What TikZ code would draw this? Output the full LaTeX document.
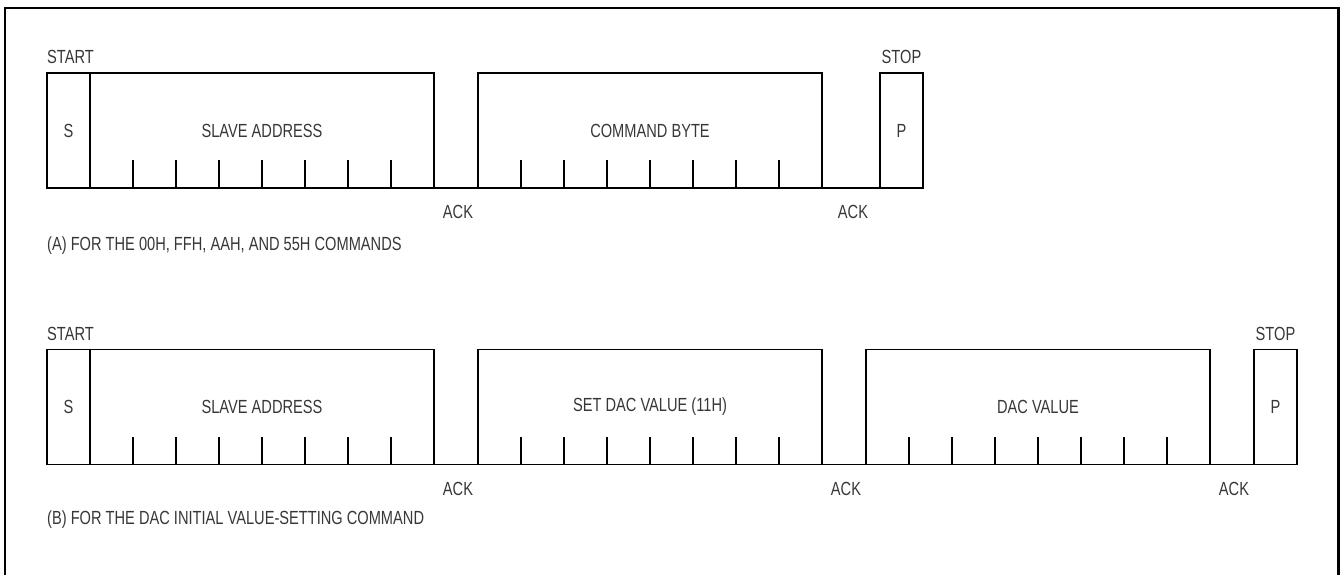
\documentclass[tikz,border=0pt]{standalone}
\usepackage{fontspec}
\setmainfont[FakeStretch=0.77]{Liberation Sans}
\usetikzlibrary{positioning,calc}
\definecolor{inkGray}{RGB}{55,55,55}
\tikzset{
	field/.style={
		draw=black,
		line width=1.6pt,
		minimum width=43pt,
		minimum height=115pt,
		inner sep=0pt,
		outer sep=0pt,
		text=inkGray,
		font=\fontsize{19}{22}\selectfont,
	},
	byte/.style={
		field,
		minimum width=344pt,
	},
	wire/.style={
		line width=1.6pt,
		draw=black,
	},
	tick/.style={
		line width=1.6pt,
		draw=black,
	},
	ack/.style={
		anchor=north,
		inner sep=0pt,
		yshift=-16.5pt,
		xshift=2pt,
		text=inkGray,
		font=\fontsize{19}{22}\selectfont,
	},
	tag/.style={
		inner sep=0pt,
		text=inkGray,
		font=\fontsize{19}{22}\selectfont,
	}
}

\begin{document}
\begin{tikzpicture}[x=1pt,y=1pt]
			\useasboundingbox (0,0) rectangle (1341,574);
			% --- frame ---
			\draw[line width=2.2pt] (5,-4) -- (5,566) -- (1338.5,566) -- (1338.5,-4);
			
			% --- Top row (A) ---
			\node[field] (sA) at (68.5,443.5) {S};
			\node[byte] (addrA) [right=0pt of sA] {SLAVE ADDRESS};
			\node[byte] (cmdA) [right=44pt of addrA] {COMMAND BYTE};
			\node[field] (pA) [right=58pt of cmdA] {P};
			
			\node[tag, anchor=south west] (startA) at ([yshift=9pt]sA.north west) {START};
			\node[tag, anchor=south] (stopA) at ([yshift=9pt]pA.north) {STOP};
			
			\draw[wire] (addrA.south east) -- node[ack] (ackA1) {ACK} (cmdA.south west);
			\draw[wire] (cmdA.south east) -- node[ack] (ackA2) {ACK} (pA.south west);
			
			\node[tag, anchor=base west] (capA) at ([yshift=-62pt]sA.south west)
			{(A) FOR THE 00H, FFH, AAH, AND 55H COMMANDS};
			
			% --- Bottom row (B) ---
			\node[field] (sB) at (68.5,167) {S};
			\node[byte] (addrB) [right=0pt of sB] {SLAVE ADDRESS};
			\node[byte] (setB) [right=44pt of addrB] {SET DAC VALUE (11H)};
			\node[byte] (valB) [right=44pt of setB] {DAC VALUE};
			\node[field] (pB) [right=44pt of valB] {P};
			
			\node[tag, anchor=south west] (startB) at ([yshift=9pt]sB.north west) {START};
			\node[tag, anchor=south] (stopB) at ([yshift=9pt]pB.north) {STOP};
			
			\draw[wire] (addrB.south east) -- node[ack] (ackB1) {ACK} (setB.south west);
			\draw[wire] (setB.south east) -- node[ack] (ackB2) {ACK} (valB.south west);
			\draw[wire] (valB.south east) -- node[ack] (ackB3) {ACK} (pB.south west);
			
			\node[tag, anchor=base west] (capB) at ([yshift=-60pt]sB.south west)
			{(B) FOR THE DAC INITIAL VALUE-SETTING COMMAND};
			
			% --- bit ticks ---
			\foreach \b in {addrA,cmdA,addrB,setB,valB}
			\foreach \i in {1,...,7}
			\draw[tick] ([xshift=\i*43pt]\b.south west) -- ++(0,28);
		\end{tikzpicture}
\end{document}
